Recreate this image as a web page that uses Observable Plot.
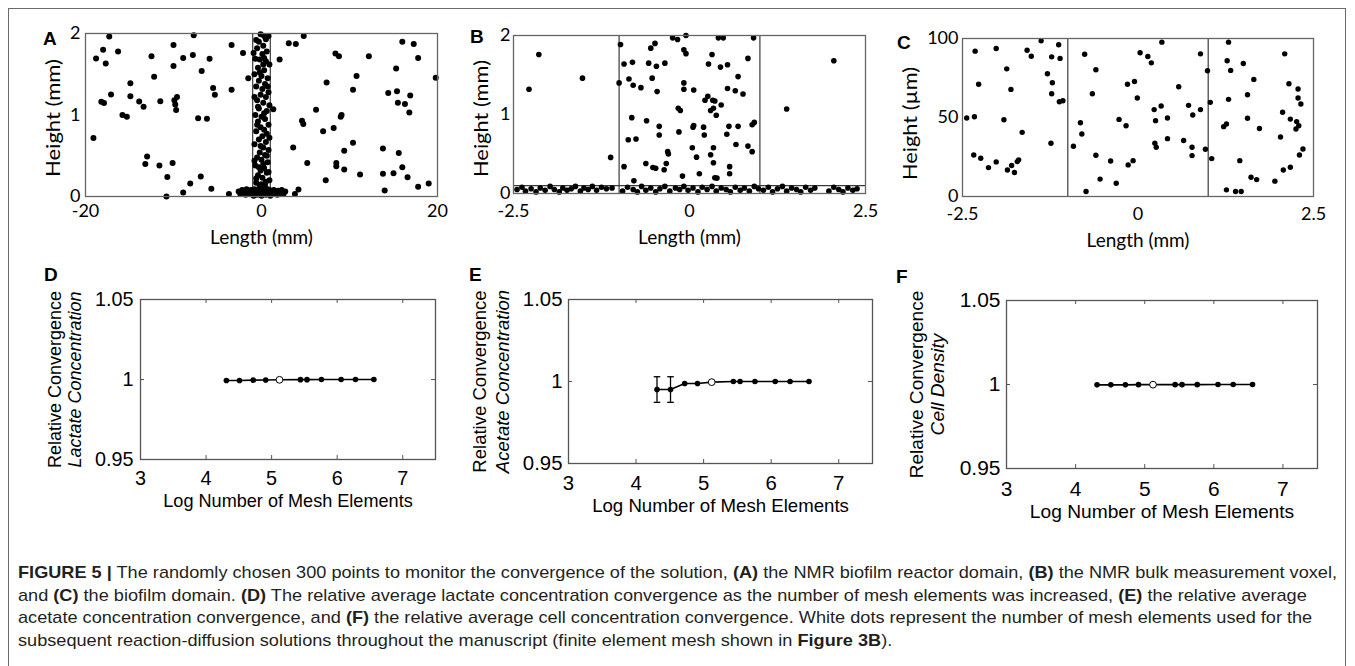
<!DOCTYPE html>
<html><head><meta charset="utf-8">
<script src="https://cdn.jsdelivr.net/npm/d3@7"></script>
<script src="https://cdn.jsdelivr.net/npm/@observablehq/plot@0.6"></script>
<style>
body{margin:0;background:#fff;}
#fig{position:relative;width:1355px;height:666px;overflow:hidden;background:#fff;}
.panel{position:absolute;}
.letter{position:absolute;font-family:"Liberation Sans",Arial,sans-serif;font-weight:bold;font-size:19px;line-height:19px;color:#000;}
#frame{position:absolute;left:8px;top:8px;width:1338px;height:700px;border:1px solid #6a6a6a;box-sizing:border-box;}
.cap{position:absolute;left:18px;white-space:nowrap;font-family:"Liberation Sans Narrow","Liberation Sans",Arial,sans-serif;font-size:17px;line-height:22px;color:#231f20;transform-origin:0 50%;}
</style></head>
<body><div id="fig"><div id="frame"></div></div>
<script>
// ---------- DATA ----------
const panelAPoints = [
[-19.1,0.718],[-18.8,1.694],[-18.2,1.163],[-17.9,1.147],[-18.0,1.80],[-17.7,1.633],[-17.3,1.963],[-17.1,1.253],[-16.3,1.78],[-15.8,1.0],[-15.3,0.98],[-14.9,1.39],[-14.9,1.23],[-13.9,1.167],[-13.4,1.10],[-13.0,0.49],[-13.2,0.40],[-12.5,1.72],[-12.2,1.47],[-11.5,1.17],[-11.6,0.38],[-10.7,0.24],[-10.8,0.0],[-10.1,0.41],[-10.0,1.86],[-10.0,1.60],[-9.9,1.18],[-9.8,1.13],[-9.6,1.22],[-9.7,1.06],[-8.9,1.70],[-8.9,0.05],[-8.1,0.16],[-7.8,1.735],[-7.7,1.98],[-7.2,0.96],[-6.9,0.245],[-6.8,1.54],[-6.2,0.955],[-5.9,1.69],[-5.7,0.094],[-5.5,1.33],[-5.3,1.25],[-3.7,0.03],[-3.4,1.86],[-3.4,1.31],[-2.1,1.76],[-1.5,1.45],
[2.06,1.68],[1.34,1.07],[3.1,1.88],[3.9,1.87],[4.8,1.97],[3.6,0.60],[3.8,0.03],[4.2,0.086],[4.6,0.93],[4.75,0.89],[5.2,0.41],[6.2,1.065],[7.0,0.80],[7.3,0.20],[7.4,1.40],[8.2,0.84],[8.4,1.755],[8.8,1.72],[8.5,0.41],[8.5,0.37],[9.1,1.0],[9.0,0.98],[9.4,0.33],[9.4,0.56],[10.4,0.66],[10.8,1.48],[10.4,1.31],[11.2,0.27],[12.2,1.72],[13.8,0.59],[13.8,0.28],[14.0,0.073],[14.4,1.27],[15.0,0.286],[15.3,1.57],[15.4,1.29],[15.5,1.15],[15.6,0.535],[16.0,1.90],[16.0,0.36],[16.3,1.135],[16.6,0.237],[16.8,1.03],[16.9,1.24],[17.3,1.87],[17.8,1.70],[17.8,0.12],[19.0,0.16],[19.8,1.457],
[-0.1,1.99],[0.3,1.97],[0.8,1.97],[-0.6,1.92],[-0.3,1.9],[0.2,1.85],[-0.5,1.82],[0.6,1.78],[0.1,1.75],[-0.7,1.69],[-0.2,1.68],[0.5,1.66],[0.9,1.62],[-0.4,1.58],[0.3,1.55],[-0.8,1.5],[0.0,1.48],[0.7,1.45],[-0.3,1.42],[0.4,1.38],[-0.6,1.35],[0.1,1.32],[0.8,1.28],[-0.1,1.25],[0.5,1.22],[-0.5,1.18],[0.2,1.15],[0.9,1.12],[-0.3,1.08],[0.6,1.05],[-0.7,1.0],[0.0,0.98],[0.4,0.95],[-0.4,0.92],[0.8,0.88],[-0.1,0.85],[0.3,0.82],[-0.6,0.8],[0.6,0.77],[0.1,0.74],[-0.3,0.7],[0.5,0.67],[-0.8,0.64],[0.2,0.6],[0.8,0.57],[-0.2,0.54],[0.4,0.51],[-0.5,0.48],[0.0,0.45],[0.7,0.42],[-0.7,0.38],[0.3,0.35],[-0.1,0.32],[0.6,0.29],[-0.4,0.26],[0.1,0.23],[0.9,0.2],[-0.6,0.17],[0.4,0.14],[-0.2,0.12],
[0.5,1.93],[-0.9,1.76],[0.2,1.62],[-0.2,1.52],[0.7,1.35],[-0.8,1.22],[0.3,1.02],[-0.5,0.88],[0.9,0.72],[-0.1,0.62],[0.6,0.5],[-0.8,0.44],[0.2,0.4],[-0.3,0.36],[0.8,0.3],[-0.6,0.22],[0.5,0.18],[0.0,0.15],[0.3,1.7],[-0.4,1.1],
[-2.6,0.06],[-2.4,0.03],[-2.2,0.08],[-2.0,0.05],[-1.8,0.02],[-1.7,0.09],[-1.5,0.06],[-1.3,0.03],[-1.2,0.08],[-1.0,0.05],[-0.9,0.01],[-0.8,0.09],[-0.7,0.04],[-0.6,0.07],[-0.5,0.02],[-0.4,0.06],[-0.3,0.09],[-0.2,0.03],[-0.1,0.07],[0.0,0.01],[0.1,0.05],[0.2,0.09],[0.3,0.03],[0.4,0.07],[0.5,0.02],[0.6,0.06],[0.7,0.09],[0.8,0.04],[0.9,0.08],[1.0,0.01],[1.1,0.06],[1.3,0.03],[1.4,0.08],[1.6,0.05],[1.8,0.02],[1.9,0.07],[2.1,0.04],[2.3,0.08],[2.5,0.03],[2.7,0.06]
];
const panelBPoints = [
[-2.28,1.32],[-2.14,1.76],[-1.52,1.46],[-1.12,0.457],[1.38,1.07],[2.05,1.68],
[-0.98,1.886],[-1.0,1.40],[-0.93,1.64],[-0.81,1.66],[-0.86,1.45],[-0.80,1.37],[-0.69,1.34],[-0.82,0.96],[-0.87,0.68],[-0.76,0.69],[-0.93,0.34],[-0.61,0.92],[-0.62,0.38],[-0.58,1.65],[-0.53,1.46],[-0.55,1.84],[-0.49,1.90],[-0.47,1.61],[-0.46,1.29],[-0.35,1.65],[-0.52,0.33],[-0.48,0.32],[-0.43,0.85],[-0.43,0.74],[-0.36,0.30],[-0.33,0.38],[-0.31,0.53],[-0.30,0.50],[-0.24,1.97],[-0.17,1.95],[-0.08,1.82],[-0.05,1.77],[-0.05,2.0],[-0.16,1.08],[-0.13,1.05],[-0.15,0.78],[-0.08,1.40],[-0.08,1.32],[0.06,1.31],[0.04,0.58],[0.06,0.86],[0.05,0.84],[0.1,0.46],[-0.1,0.22],[0.14,0.25],[0.2,0.84],[0.21,0.74],[0.27,1.64],[0.32,1.76],[0.22,1.18],[0.26,1.23],[0.33,1.18],[0.36,1.17],[0.30,1.05],[0.34,1.08],[0.38,0.99],[0.45,1.12],[0.3,0.49],[0.34,0.58],[0.34,0.39],[0.36,0.20],[0.39,0.195],[0.41,1.97],[0.48,1.97],[0.44,1.60],[0.54,1.63],[0.54,1.33],[0.56,0.85],[0.53,0.75],[0.57,0.34],[0.57,0.25],[0.69,0.85],[0.66,0.62],[0.65,1.30],[0.69,1.48],[0.76,1.26],[0.83,1.71],[0.83,0.60],[0.89,0.53],[0.89,0.87],[0.92,0.90],[0.91,1.97],[-0.79,0.16],
[-2.45,0.05],[-2.38,0.08],[-2.33,0.03],[-2.25,0.06],[-2.18,0.02],[-2.12,0.07],[-2.05,0.04],[-1.98,0.09],[-1.92,0.05],[-1.85,0.02],[-1.8,0.07],[-1.74,0.04],[-1.68,0.06],[-1.62,0.09],[-1.55,0.03],[-1.5,0.07],[-1.44,0.05],[-1.38,0.09],[-1.32,0.04],[-1.25,0.08],[-1.18,0.06],[-1.1,0.07],
[-0.95,0.03],[-0.88,0.08],[-0.8,0.05],[-0.74,0.02],[-0.68,0.09],[-0.62,0.04],[-0.55,0.07],[-0.48,0.02],[-0.42,0.06],[-0.35,0.09],[-0.28,0.03],[-0.2,0.07],[-0.14,0.05],[-0.08,0.09],[-0.02,0.04],[0.05,0.07],[0.12,0.02],[0.18,0.08],[0.25,0.05],[0.32,0.09],[0.38,0.03],[0.45,0.07],[0.52,0.05],[0.58,0.02],[0.65,0.08],[0.72,0.04],[0.78,0.07],[0.85,0.03],[0.92,0.09],[0.98,0.06],
[1.05,0.04],[1.12,0.08],[1.18,0.02],[1.25,0.06],[1.32,0.09],[1.38,0.03],[1.45,0.07],[1.52,0.05],[1.58,0.02],[1.65,0.08],[1.72,0.04],[1.78,0.07],[1.98,0.03],[2.05,0.08],[2.12,0.05],[2.18,0.02],[2.25,0.07],[2.32,0.04],[2.38,0.06]
];
const panelCPoints = [
[-2.44,49.7],[-2.33,50.5],[-2.32,92],[-2.27,71],[-2.34,26.3],[-2.24,24.2],[-2.13,18.3],[-2.02,21.9],[-2.02,93.7],[-1.91,48.6],[-1.87,80.8],[-1.86,16.8],[-1.81,67.8],[-1.80,19.6],[-1.76,15.2],[-1.72,22.1],[-1.70,23.2],[-1.65,40.6],[-1.58,92.6],[-1.52,88.8],[-1.38,98.5],[-1.29,77.7],[-1.24,33.7],[-1.22,72],[-1.23,65],[-1.23,88.4],[-1.13,96],[-1.11,87.4],[-1.12,60],[-1.07,60.6],
[-0.92,31.8],[-0.82,46.7],[-0.80,39.6],[-0.76,90],[-0.74,3.2],[-0.60,80.2],[-0.65,65],[-0.60,26.1],[-0.54,11],[-0.39,22.5],[-0.31,8.4],[-0.27,48.8],[-0.17,44.8],[-0.15,71],[-0.05,72.8],[-0.14,20],[-0.07,22.7],[-0.01,62.3],[0.03,91],[0.14,88.6],[0.19,84.6],[0.23,55],[0.25,48],[0.24,33.7],[0.26,31.2],[0.33,57.3],[0.34,97.7],[0.42,49.7],[0.42,36.6],[0.58,69.5],[0.65,35.4],[0.72,57.7],[0.78,51.6],[0.77,31.2],[0.77,25.9],[0.89,55],[0.89,90.3],[0.96,29.9],[0.99,79.6],
[1.03,59.6],[1.05,24],[1.22,44.2],[1.26,45.9],[1.27,85.9],[1.29,97.7],[1.29,61.5],[1.32,79.8],[1.26,4.2],[1.39,3.2],[1.47,3.2],[1.45,22.7],[1.50,84.2],[1.56,64.4],[1.56,49.5],[1.65,74.1],[1.61,12.2],[1.69,10.7],[1.73,43],[1.95,9.7],[2.03,37.7],[2.07,16.8],[2.06,53.3],[2.09,90.3],[2.15,71.4],[2.17,18.5],[2.17,49],[2.28,68],[2.28,62.3],[2.32,58.5],[2.26,47.4],[2.29,44.8],[2.25,42.7],[2.30,26.3],[2.35,30.1]
];
const aXTicks = [-20, 0, 20], aYTicks = [0, 1, 2];
const bXTicks = [-2.5, 0, 2.5], bYTicks = [0, 1, 2];
const cXTicks = [-2.5, 0, 2.5], cYTicks = [0, 50, 100];
const aBoundsX = [-1, 1];
const bBoundsX = [-1, 1], bBoundsY = [0.1];
const cBoundsX = [-1, 1];

const meshLogN   = [4.31, 4.51, 4.72, 4.91, 5.12, 5.44, 5.54, 5.76, 6.06, 6.28, 6.56];
const lactateRel = [0.9994, 0.9994, 0.9996, 0.9997, 0.9998, 0.9999, 0.9999, 1, 1, 1, 1];
const acetateRel = [0.9951, 0.9951, 0.9988, 0.9988, 0.9996, 1, 1, 1, 1, 1, 1];
const acetateErr = [0.0078, 0.0078, 0, 0, 0, 0, 0, 0, 0, 0, 0];
const cellRel    = [0.9998, 0.9998, 0.9998, 0.9999, 0.9999, 0.9999, 0.9999, 0.9999, 1, 1, 1];
const chosenIndex = 4;
const convXTicks = [3, 4, 5, 6, 7], convYTicks = [0.95, 1, 1.05];

// ---------- RENDER ----------
const fig = document.getElementById("fig");
function place(svg, left, top) {
  const d = document.createElement("div");
  d.className = "panel"; d.style.left = left + "px"; d.style.top = top + "px";
  d.appendChild(svg); fig.appendChild(d);
}
function letter(t, left, top, size) {
  const d = document.createElement("div");
  d.className = "letter"; d.textContent = t;
  d.style.left = left + "px"; d.style.top = top + "px";
  if (size) d.style.fontSize = size + "px";
  fig.appendChild(d);
}

function topPanel(o) {
  const svg = Plot.plot({
    width: o.width, height: o.height,
    marginLeft: o.mL, marginRight: o.mR, marginTop: o.mT, marginBottom: o.mB,
    style: {fontFamily: "Lato, 'Open Sans', sans-serif", fontSize: "18px", color: "#000", background: "transparent", overflow: "visible"},
    x: {domain: o.xDomain}, y: {domain: o.yDomain},
    marks: [
      Plot.ruleX(o.vLines, {x: d => d, stroke: "#3a3a3a", strokeWidth: 1.2}),
      Plot.ruleY(o.hLines || [], {y: d => d, stroke: "#3a3a3a", strokeWidth: 1.2}),
      Plot.dot(o.points, {x: d => d[0], y: d => d[1], r: o.r, fill: "#000", stroke: "none"}),
      Plot.frame({stroke: "#666", strokeWidth: 1.3}),
      Plot.axisX(o.xTicks, {tickSize: 0, tickPadding: o.xPad, tickFormat: d => String(d), label: null}),
      Plot.axisY(o.yTicks, {tickSize: 0, tickPadding: o.yPad, tickFormat: d => String(d), label: null}),
      Plot.text(["Length (mm)"], {text: d => d, frameAnchor: "bottom", lineAnchor: "middle", textAnchor: "middle", dy: o.xLabDy, fontSize: 19}),
      Plot.text([o.yLabel], {text: d => d, frameAnchor: "left", textAnchor: "middle", lineAnchor: "middle", dx: o.yLabDx, dy: o.yLabDy, rotate: -90, fontSize: 19})
    ]
  });
  svg.querySelectorAll("text").forEach(t => {
    if (t.textContent === o.yLabel) { t.setAttribute("textLength", o.yLabLen); t.setAttribute("lengthAdjust", "spacingAndGlyphs"); }
  });
  return svg;
}

place(topPanel({points: panelAPoints, xDomain: [-20, 20], yDomain: [0, 2], xTicks: aXTicks, yTicks: aYTicks,
  vLines: aBoundsX, width: 460, height: 250, mL: 85, mR: 23, mT: 33, mB: 54, xPad: 8, yPad: 5, r: 3,
  xLabDy: 41, yLabel: "Height (mm)", yLabDx: -32, yLabDy: 3, yLabLen: 118}), 0, 0);
place(topPanel({points: panelBPoints, xDomain: [-2.5, 2.5], yDomain: [0, 2], xTicks: bXTicks, yTicks: bYTicks,
  vLines: bBoundsX, hLines: bBoundsY, width: 450, height: 250, mL: 63, mR: 35, mT: 35, mB: 57, xPad: 10.5, yPad: 3, r: 2.8,
  xLabDy: 44, yLabel: "Height (mm)", yLabDx: -32, yLabDy: 4, yLabLen: 117}), 450, 0);
place(topPanel({points: panelCPoints, xDomain: [-2.5, 2.5], yDomain: [0, 100], xTicks: cXTicks, yTicks: cYTicks,
  vLines: cBoundsX, width: 460, height: 250, mL: 72, mR: 37, mT: 38, mB: 54, xPad: 10.5, yPad: 4, r: 2.7,
  xLabDy: 44, yLabel: "Height (\u00b5m)", yLabDx: -52, yLabDy: 6, yLabLen: 113}), 890, 0);

const capSymbol = {draw(ctx, size) { const w = Math.sqrt(size / Math.PI); ctx.moveTo(-w, 0); ctx.lineTo(w, 0); }};

function convPanel(o) {
  const H = o.height - o.mT - o.mB, W = o.width - o.mL - o.mR;
  const idx = meshLogN.map((_, i) => i);
  const err = o.err || meshLogN.map(() => 0);
  const errIdx = idx.filter(i => err[i] > 0);
  const caps = errIdx.flatMap(i => [{x: meshLogN[i], y: o.vals[i] - err[i]}, {x: meshLogN[i], y: o.vals[i] + err[i]}]);
  const s = o.scale;
  return Plot.plot({
    width: o.width, height: o.height,
    marginLeft: o.mL, marginRight: o.mR, marginTop: o.mT, marginBottom: o.mB,
    style: {fontFamily: "'Liberation Sans', Arial, sans-serif", fontSize: (19.8 * s) + "px", color: "#000", background: "transparent", overflow: "visible"},
    x: {domain: [3, 7.5]}, y: {domain: [0.95, 1.05]},
    marks: [
      Plot.tickX(convXTicks, {x: d => d, stroke: "#555", insetTop: H - 4}),
      Plot.tickX(convXTicks, {x: d => d, stroke: "#555", insetBottom: H - 4}),
      Plot.tickY(convYTicks, {y: d => d, stroke: "#555", insetRight: W - 4}),
      Plot.tickY(convYTicks, {y: d => d, stroke: "#555", insetLeft: W - 4}),
      Plot.frame({stroke: "#555", strokeWidth: 1.3}),
      Plot.ruleX(errIdx, {x: i => meshLogN[i], y1: i => o.vals[i] - err[i], y2: i => o.vals[i] + err[i], stroke: "#000", strokeWidth: 1.3}),
      Plot.dot(caps, {x: "x", y: "y", symbol: capSymbol, r: 3.3, stroke: "#000", strokeWidth: 1.3, fill: "none"}),
      Plot.line(idx, {x: i => meshLogN[i], y: i => o.vals[i], stroke: "#000", strokeWidth: 1.6}),
      Plot.dot(idx.filter(i => i !== chosenIndex), {x: i => meshLogN[i], y: i => o.vals[i], r: 2.8, fill: "#000", stroke: "none"}),
      Plot.dot([chosenIndex], {x: i => meshLogN[i], y: i => o.vals[i], r: 3.4, fill: "#fff", stroke: "#000", strokeWidth: 1}),
      Plot.axisX(convXTicks, {tickSize: 0, tickPadding: o.xPad, tickFormat: d => String(d), label: null}),
      Plot.axisY(convYTicks, {tickSize: 0, tickPadding: o.yPad, tickFormat: d => String(d), label: null}),
      Plot.text(["Log Number of Mesh Elements"], {text: d => d, frameAnchor: "bottom", lineAnchor: "middle", textAnchor: "middle", dy: o.xLabDy, fontSize: 18.1 * s}),
      Plot.text(["Relative Convergence"], {text: d => d, frameAnchor: "left", textAnchor: "middle", lineAnchor: "middle", dx: o.l1dx, rotate: -90, fontSize: 18 * s}),
      Plot.text([o.yLabel2], {text: d => d, frameAnchor: "left", textAnchor: "middle", lineAnchor: "middle", dx: o.l2dx, rotate: -90, fontSize: 18 * s, fontStyle: "italic"})
    ]
  });
}

place(convPanel({vals: lactateRel, width: 450, height: 290, mL: 140, mR: 15, mT: 49, mB: 81, scale: 1.0,
  xPad: 11, yPad: 7, xLabDy: 42, l1dx: -85, l2dx: -65, yLabel2: "Lactate Concentration"}), 0, 250);
place(convPanel({vals: acetateRel, err: acetateErr, width: 450, height: 290, mL: 118, mR: 28, mT: 49, mB: 77, scale: 1.03,
  xPad: 12, yPad: 6, xLabDy: 43, l1dx: -88, l2dx: -65.5, yLabel2: "Acetate Concentration"}), 450, 250);
place(convPanel({vals: cellRel, width: 460, height: 290, mL: 116, mR: 33, mT: 50, mB: 72, scale: 1.06,
  xPad: 12.5, yPad: 6, xLabDy: 43, l1dx: -89.5, l2dx: -68.5, yLabel2: "Cell Density"}), 890, 250);

letter("A", 43, 28.7); letter("B", 470, 26.7); letter("C", 897, 33);
letter("D", 44, 264.7); letter("E", 469, 264.7); letter("F", 896, 266.5);

// ---------- CAPTION ----------
const captionLines = [
  '<b>FIGURE 5 |</b> The randomly chosen 300 points to monitor the convergence of the solution, <b>(A)</b> the NMR biofilm reactor domain, <b>(B)</b> the NMR bulk measurement voxel,',
  'and <b>(C)</b> the biofilm domain. <b>(D)</b> The relative average lactate concentration convergence as the number of mesh elements was increased, <b>(E)</b> the relative average',
  'acetate concentration convergence, and <b>(F)</b> the relative average cell concentration convergence. White dots represent the number of mesh elements used for the',
  'subsequent reaction-diffusion solutions throughout the manuscript (finite element mesh shown in <b>Figure 3B</b>).'
];
const captionCenters = [573, 596, 618, 641];
const capEls = captionLines.map((html, i) => {
  const d = document.createElement("div");
  d.className = "cap"; d.innerHTML = html;
  d.style.top = (captionCenters[i] - 11) + "px";
  fig.appendChild(d); return d;
});
const natural = capEls[0].getBoundingClientRect().width;
const sx = 1319 / natural;
capEls.forEach(d => d.style.transform = "scaleX(" + sx + ")");
</script>
</body></html>
